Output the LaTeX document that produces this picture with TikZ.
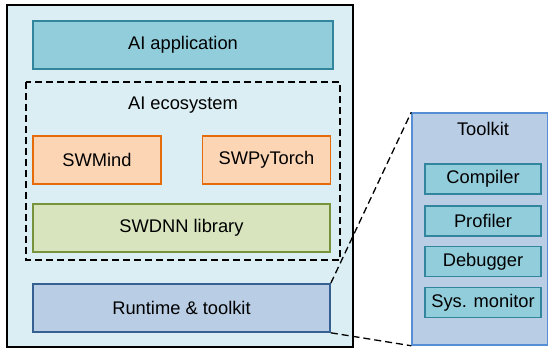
\documentclass[tikz,border=0pt]{standalone}
\usepackage{fontspec}
\setmainfont{Liberation Sans}
\usepackage{xcolor}
\usetikzlibrary{positioning}

\definecolor{bgblue}{HTML}{DAEEF3}
\definecolor{tealfill}{HTML}{92CDDC}
\definecolor{tealline}{HTML}{31859C}
\definecolor{orfill}{HTML}{FCD5B5}
\definecolor{orline}{HTML}{E46C0A}
\definecolor{grfill}{HTML}{D7E4BD}
\definecolor{grline}{HTML}{77933C}
\definecolor{blfill}{HTML}{B9CDE5}
\definecolor{blline}{HTML}{376092}
\definecolor{tkline}{HTML}{558ED5}

\begin{document}
\begin{tikzpicture}[x=1pt,y=-1pt,
  every node/.style={font=\fontsize{18.3}{20}\selectfont},
  layer/.style={draw,line width=1.6pt,inner sep=0pt,minimum height=48pt},
  app/.style={layer,fill=tealfill,draw=tealline},
  fw/.style={layer,fill=orfill,draw=orline,minimum width=128pt},
  lib/.style={layer,fill=grfill,draw=grline},
  rt/.style={layer,fill=blfill,draw=blline},
  tool/.style={draw=tealline,fill=tealfill,line width=1.6pt,inner sep=0pt,minimum width=116pt,minimum height=30pt},
  zoomln/.style={line width=1.3pt,dash pattern=on 7pt off 4pt}]
\useasboundingbox (0,0) rectangle (548,349);
% main stack
\draw[line width=1.5pt,fill=bgblue] (7,5) rectangle (353,347);
\node[app,minimum width=300pt] (aiapp) at (183,45) {AI application};
\draw[line width=1.3pt,dash pattern=on 7pt off 4pt] (26,82) rectangle (340,260);
\node (eco) at (183,105) {AI ecosystem};
\node[fw] (swmind) at (97,160) {SWMind};
\node[fw] (swpt) at (266.5,160) {SWPyTorch};
\node[lib,minimum width=297pt] (swdnn) at (181.5,228) {SWDNN library};
\node[rt,minimum width=297pt] (runtime) at (181.5,308) {Runtime \& toolkit};
% toolkit detail
\node[draw=tkline,fill=blfill,line width=1.5pt,inner sep=0pt,minimum width=136pt,minimum height=232pt] (toolkit) at (480,229) {};
\node (tktitle) at (483,129) {Toolkit};
\node[tool] (compiler) at (483,179) {Compiler};
\node[tool] (profiler) at (483,221) {Profiler};
\node[tool] (debugger) at (483,261.5) {Debugger};
\node[tool] (sysmon) at (483,302.5) {Sys. monitor};
\draw[zoomln] (runtime.north east) -- (toolkit.north west);
\draw[zoomln] (runtime.south east) -- (toolkit.south west);
\end{tikzpicture}
\end{document}
